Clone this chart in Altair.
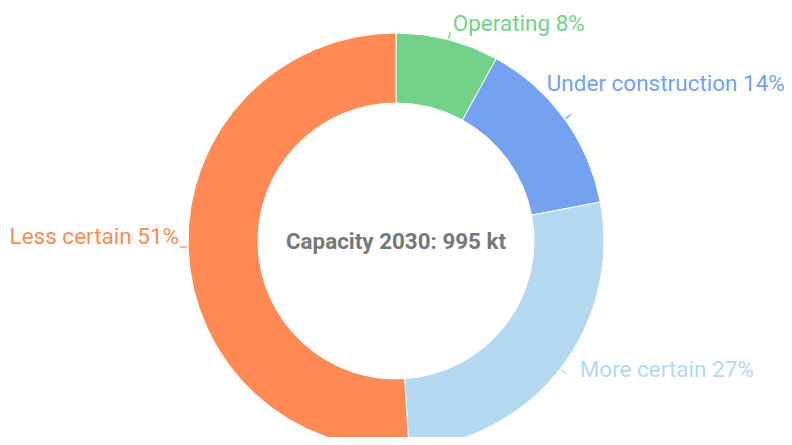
import altair as alt
import pandas as pd

categories = ["Operating", "Under construction", "More certain", "Less certain"]
shares = [8, 14, 27, 51]
colors = ["#74D18A", "#74A1F0", "#B3D8EF", "#FF8A56"]
center_title = "Capacity 2030: 995 kt"

df = pd.DataFrame({
    "cat": categories,
    "value": shares,
    "idx": list(range(len(categories))),
})
df["label"] = [f"{c} {v}%" for c, v in zip(categories, shares)]

CX, CY = 388, 233
R_OUT, R_IN = 208, 138

color = alt.Color("cat:N", scale=alt.Scale(domain=categories, range=colors), legend=None)

donut = alt.Chart(df).mark_arc(stroke="white", strokeWidth=1).encode(
    theta=alt.Theta("value:Q", stack=True),
    order=alt.Order("idx:Q"),
    color=color,
    radius=alt.value(R_OUT),
    radius2=alt.value(R_IN),
    x=alt.value(CX),
    y=alt.value(CY),
)

base = (
    alt.Chart(df)
    .transform_joinaggregate(total="sum(value)")
    .transform_window(cum="sum(value)", sort=[alt.SortField("idx")], frame=[None, 0])
    .transform_calculate(
        mid="2*PI*(datum.cum - datum.value/2)/datum.total",
        mid2="2*PI*(datum.cum - datum.value/2)/datum.total + 0.006",
    )
)

leaders = base.mark_arc().encode(
    theta=alt.Theta("mid:Q", scale=None),
    theta2="mid2:Q",
    radius=alt.value(R_OUT + 1),
    radius2=alt.value(R_OUT + 8),
    color=color,
    x=alt.value(CX),
    y=alt.value(CY),
)

label_style = {
    "Operating": dict(align="left", dx=3, dy=-8),
    "Under construction": dict(align="left", dx=-24, dy=-30),
    "More certain": dict(align="left", dx=13, dy=-3),
    "Less certain": dict(align="right", dx=-1, dy=-11),
}

label_layers = []
for cat in categories:
    st = label_style[cat]
    label_layers.append(
        base.transform_filter(alt.datum.cat == cat)
        .mark_text(font="Roboto", fontSize=22.5, baseline="middle", **st)
        .encode(
            theta=alt.Theta("mid:Q", scale=None),
            radius=alt.value(R_OUT + 8),
            text="label:N",
            color=color,
            x=alt.value(CX),
            y=alt.value(CY),
        )
    )

center = alt.Chart(pd.DataFrame({"t": [center_title]})).mark_text(
    font="Roboto", fontSize=22.4, fontWeight="bold", color="#787878", baseline="middle"
).encode(text="t:N", x=alt.value(CX), y=alt.value(CY + 1))

chart = alt.layer(donut, leaders, *label_layers, center).properties(
    width=776, height=429, padding=0, autosize="none"
).configure_view(stroke=None)

chart.save("out.html", embed_options={"renderer": "svg", "actions": False})
